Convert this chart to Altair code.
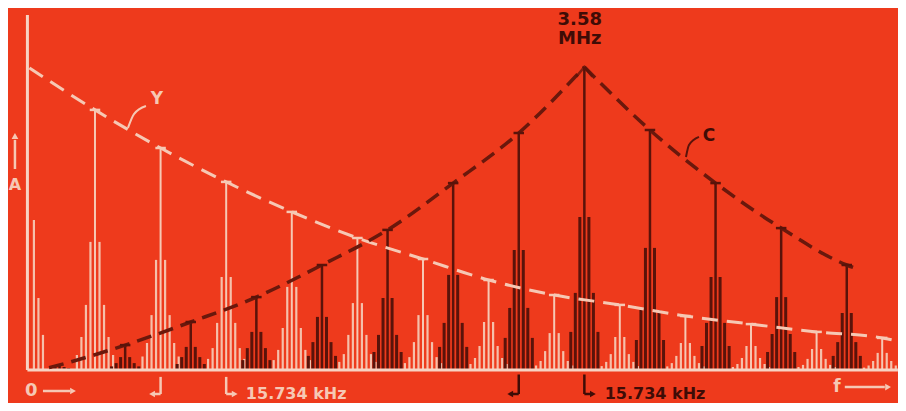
import altair as alt
import pandas as pd

# ---------------- data ----------------
# Luminance (Y) groups at multiples of the line frequency
y_group_x = [0, 1, 2, 3, 4, 5, 6, 7, 8, 9, 10, 11, 12, 13]
y_envelope = [100.7, 86.7, 74.0, 62.7, 52.7, 44.0, 37.0, 30.0, 25.0, 21.7, 18.0, 15.3, 12.7, 10.7]
y_side_1 = [50.0, 42.7, 36.7, 31.0, 27.7, 22.3, 18.3, 16.0, 12.3, 11.0, 9.0, 8.0, 7.0, 5.7]
y_side_2 = [24.0, 21.7, 18.3, 15.7, 14.0, 11.7, 9.3, 8.0, 6.3, 5.3, 4.7, 4.0, 3.7, 3.0]
y_side_3 = [11.7, 11.0, 9.0, 7.3, 6.7, 5.3, 4.3, 4.0, 3.0, 2.7, 2.3, 2.0, 1.7, 1.5]
y_side_4 = [0.0, 5.0, 4.5, 3.7, 3.3, 2.7, 2.3, 2.0, 1.5, 1.3, 1.2, 1.0, 1.0, 0.8]
y_env_tail = [13.16, 10.0]

# Chrominance (C) groups interleaved between the Y groups
c_group_x = [0.46, 1.46, 2.46, 3.46, 4.46, 5.46, 6.46, 7.46, 8.46, 9.46, 10.46, 11.46, 12.46]
c_envelope = [1.7, 8.3, 16.0, 24.3, 35.0, 46.7, 62.3, 79.0, 101.0, 80.0, 62.3, 47.3, 35.0]
c_side_1 = [1.0, 4.3, 7.7, 12.7, 17.7, 24.0, 31.7, 40.0, 51.0, 40.7, 31.0, 24.3, 19.0]
c_side_2 = [0.6, 2.3, 4.3, 7.3, 9.3, 11.7, 15.7, 20.7, 25.7, 20.0, 15.7, 12.0, 9.3]
c_side_3 = [0.3, 1.2, 2.0, 3.3, 4.7, 6.0, 7.7, 10.7, 12.7, 10.0, 8.0, 6.0, 4.7]
c_env_head = [0.30, 0.8]
c_env_tail = [12.62, 33.7]
c_peak_index = 8

side_step = 0.069  # spacing of the fine (field-rate) lines inside each group

# ---------------- styles ----------------
BG = "#ee3a1c"
PALE = "#f6c8b4"
PALE_SPIKE = "#f5c0ab"
DARK = "#5a130a"
DARK_TXT = "#3f0c06"

xs = alt.Scale(domain=[-0.326, 13.241], nice=False, zero=False)
ys = alt.Scale(domain=[-11.0, 120.667], nice=False, zero=False)


def X(f):
    return alt.X(f"{f}:Q", scale=xs, axis=None)


def Y(f):
    return alt.Y(f"{f}:Q", scale=ys, axis=None)


# ---------------- build tables ----------------
y_sides = [y_side_1, y_side_2, y_side_3, y_side_4]
c_sides = [c_side_1, c_side_2, c_side_3]

y_spk, y_ctr, y_cap = [], [], []
for i, gx in enumerate(y_group_x):
    for k, side in enumerate(y_sides, start=1):
        h = side[i]
        if h <= 0:
            continue
        signs = (1,) if i == 0 else (-1, 1)
        for s in signs:
            y_spk.append({"x": gx + s * k * side_step, "lo": 0.0, "hi": h})
    if i > 0:
        y_ctr.append({"x": gx, "lo": 0.0, "hi": y_envelope[i]})
        y_cap.append({"x": gx - 0.08, "x2": gx + 0.08, "y": y_envelope[i]})

c_spk, c_ctr, c_cap = [], [], []
for i, gx in enumerate(c_group_x):
    for k, side in enumerate(c_sides, start=1):
        h = side[i]
        for s in (-1, 1):
            c_spk.append({"x": gx + s * k * side_step, "lo": 0.0, "hi": h})
    c_ctr.append({"x": gx, "lo": 0.0, "hi": c_envelope[i]})
    if i > 0 and i != c_peak_index:
        c_cap.append({"x": gx - 0.08, "x2": gx + 0.08, "y": c_envelope[i]})

y_env_df = pd.DataFrame(
    {"x": y_group_x + [y_env_tail[0]], "y": y_envelope + [y_env_tail[1]]}
)
left_x = [c_env_head[0]] + c_group_x[: c_peak_index + 1]
left_y = [c_env_head[1]] + c_envelope[: c_peak_index + 1]
right_x = c_group_x[c_peak_index:] + [c_env_tail[0]]
right_y = c_envelope[c_peak_index:] + [c_env_tail[1]]
c_env_df = pd.DataFrame(
    {
        "x": left_x + right_x,
        "y": left_y + right_y,
        "arm": ["rise"] * len(left_x) + ["fall"] * len(right_x),
    }
)

# ---------------- layers ----------------
def rules(rows, color, width):
    return (
        alt.Chart(pd.DataFrame(rows))
        .mark_rule(color=color, strokeWidth=width)
        .encode(x=X("x"), y=Y("lo"), y2=alt.Y2("hi"))
    )


def hrules(rows, color, width):
    return (
        alt.Chart(pd.DataFrame(rows))
        .mark_rule(color=color, strokeWidth=width)
        .encode(x=X("x"), x2=alt.X2("x2"), y=Y("y"))
    )


y_spikes = rules(y_spk, PALE_SPIKE, 2.2)
y_centers = rules(y_ctr, PALE, 2)
y_caps = hrules(y_cap, PALE, 2.5)
c_spikes = rules(c_spk, DARK, 3)
c_centers = rules(c_ctr, DARK, 2.5)
c_caps = hrules(c_cap, DARK, 2.5)

y_env_line = (
    alt.Chart(y_env_df)
    .mark_line(color=PALE, strokeWidth=3, strokeDash=[16, 9], interpolate="monotone")
    .encode(x=X("x"), y=Y("y"))
)
c_env_line = (
    alt.Chart(c_env_df)
    .mark_line(color="#6a180c", strokeWidth=3.5, strokeDash=[15, 8], interpolate="monotone")
    .encode(x=X("x"), y=Y("y"), detail="arm:N")
)

# axes drawn as plain lines
axis_v = rules([{"x": -0.03, "lo": 0.0, "hi": 118.3}], "#f7d3c3", 3)
axis_h = hrules([{"x": -0.03, "x2": 13.24, "y": 0.0}], "#f7d3c3", 3)

# peak chevron at 3.58 MHz
peak = (
    alt.Chart(pd.DataFrame({"x": [c_group_x[c_peak_index]], "y": [c_envelope[c_peak_index]]}))
    .mark_point(shape="M-1,1.2L0,0L1,1.2", filled=False, color=DARK, strokeWidth=2.5, size=256)
    .encode(x=X("x"), y=Y("y"))
)

# small arrows and 15.734 kHz markers below the baseline
MK = -8.0
pale_lines_v = rules(
    [
        {"x": -0.22, "lo": 67.0, "hi": 76.7},
        {"x": 2.0, "lo": -2.3, "hi": MK},
        {"x": 3.0, "lo": -2.3, "hi": MK},
    ],
    PALE,
    2.5,
)
pale_lines_h = hrules(
    [
        {"x": 0.207, "x2": 0.62, "y": -7.0},
        {"x": 12.43, "x2": 13.04, "y": -5.7},
        {"x": 1.9, "x2": 2.0, "y": MK},
        {"x": 3.0, "x2": 3.1, "y": MK},
    ],
    PALE,
    2.5,
)
dark_lines_v = rules(
    [
        {"x": c_group_x[7], "lo": -1.5, "hi": MK},
        {"x": c_group_x[8], "lo": -1.5, "hi": MK},
    ],
    DARK_TXT,
    2.5,
)
dark_lines_h = hrules(
    [
        {"x": c_group_x[7] - 0.1, "x2": c_group_x[7], "y": MK},
        {"x": c_group_x[8], "x2": c_group_x[8] + 0.1, "y": MK},
    ],
    DARK_TXT,
    2.5,
)

heads = pd.DataFrame(
    {
        "x": [-0.22, 0.665, 13.09, 1.87, 3.13, c_group_x[7] - 0.13, c_group_x[8] + 0.13],
        "y": [78.0, -7.0, -5.7, MK, MK, MK, MK],
        "shape": ["triangle-up", "triangle-right", "triangle-right", "triangle-left",
                  "triangle-right", "triangle-left", "triangle-right"],
        "color": [PALE, PALE, PALE, PALE, PALE, DARK_TXT, DARK_TXT],
    }
)
arrow_heads = (
    alt.Chart(heads)
    .mark_point(filled=True, size=45, opacity=1)
    .encode(
        x=X("x"),
        y=Y("y"),
        shape=alt.Shape("shape:N", scale=None),
        color=alt.Color("color:N", scale=None),
    )
)

# leader curves for the Y and C labels
leaders = pd.DataFrame(
    {
        "x": [1.503, 1.594, 1.777, 10.009, 10.055, 10.207],
        "y": [80.7, 85.3, 88.0, 71.0, 75.0, 77.7],
        "id": ["Y", "Y", "Y", "C", "C", "C"],
    }
)
leader_y = (
    alt.Chart(leaders[leaders["id"] == "Y"])
    .mark_line(color=PALE, strokeWidth=2, interpolate="monotone")
    .encode(x=X("x"), y=Y("y"))
)
leader_c = (
    alt.Chart(leaders[leaders["id"] == "C"])
    .mark_line(color=DARK, strokeWidth=2, interpolate="monotone")
    .encode(x=X("x"), y=Y("y"))
)

labels = pd.DataFrame(
    {
        "x": [8.39, 8.39, 1.945, 10.36, -0.22, 0.03, 12.31, 3.30, 8.77],
        "y": [116.8, 110.2, 90.3, 78.0, 61.7, -7.0, -5.7, MK, MK],
        "text": ["3.58", "MHz", "Y", "C", "A", "0", "f", "15.734 kHz", "15.734 kHz"],
        "color": [DARK_TXT, DARK_TXT, PALE, DARK_TXT, PALE, PALE, PALE, PALE, DARK_TXT],
        "size": [18, 18, 17, 17, 16, 18, 17, 16, 16],
        "align": ["center"] * 7 + ["left", "left"],
    }
)
text_center = (
    alt.Chart(labels[labels["align"] == "center"])
    .mark_text(font="DejaVu Sans", fontWeight="bold", baseline="middle", align="center")
    .encode(
        x=X("x"),
        y=Y("y"),
        text="text:N",
        color=alt.Color("color:N", scale=None),
        size=alt.Size("size:Q", scale=None),
    )
)
text_left = (
    alt.Chart(labels[labels["align"] == "left"])
    .mark_text(font="DejaVu Sans", fontWeight="bold", baseline="middle", align="left")
    .encode(
        x=X("x"),
        y=Y("y"),
        text="text:N",
        color=alt.Color("color:N", scale=None),
        size=alt.Size("size:Q", scale=None),
    )
)

chart = (
    alt.layer(
        y_spikes, y_centers, c_spikes, c_centers,
        axis_v, axis_h,
        y_env_line, c_env_line, y_caps, c_caps, peak,
        pale_lines_v, pale_lines_h, dark_lines_v, dark_lines_h, arrow_heads,
        leader_y, leader_c, text_center, text_left,
    )
    .properties(width=890, height=395, autosize=alt.AutoSizeParams(type="none"), padding=0)
    .configure(background=BG)
    .configure_view(strokeWidth=0)
)

chart.save("out.html", embed_options={"renderer": "svg", "actions": False})
